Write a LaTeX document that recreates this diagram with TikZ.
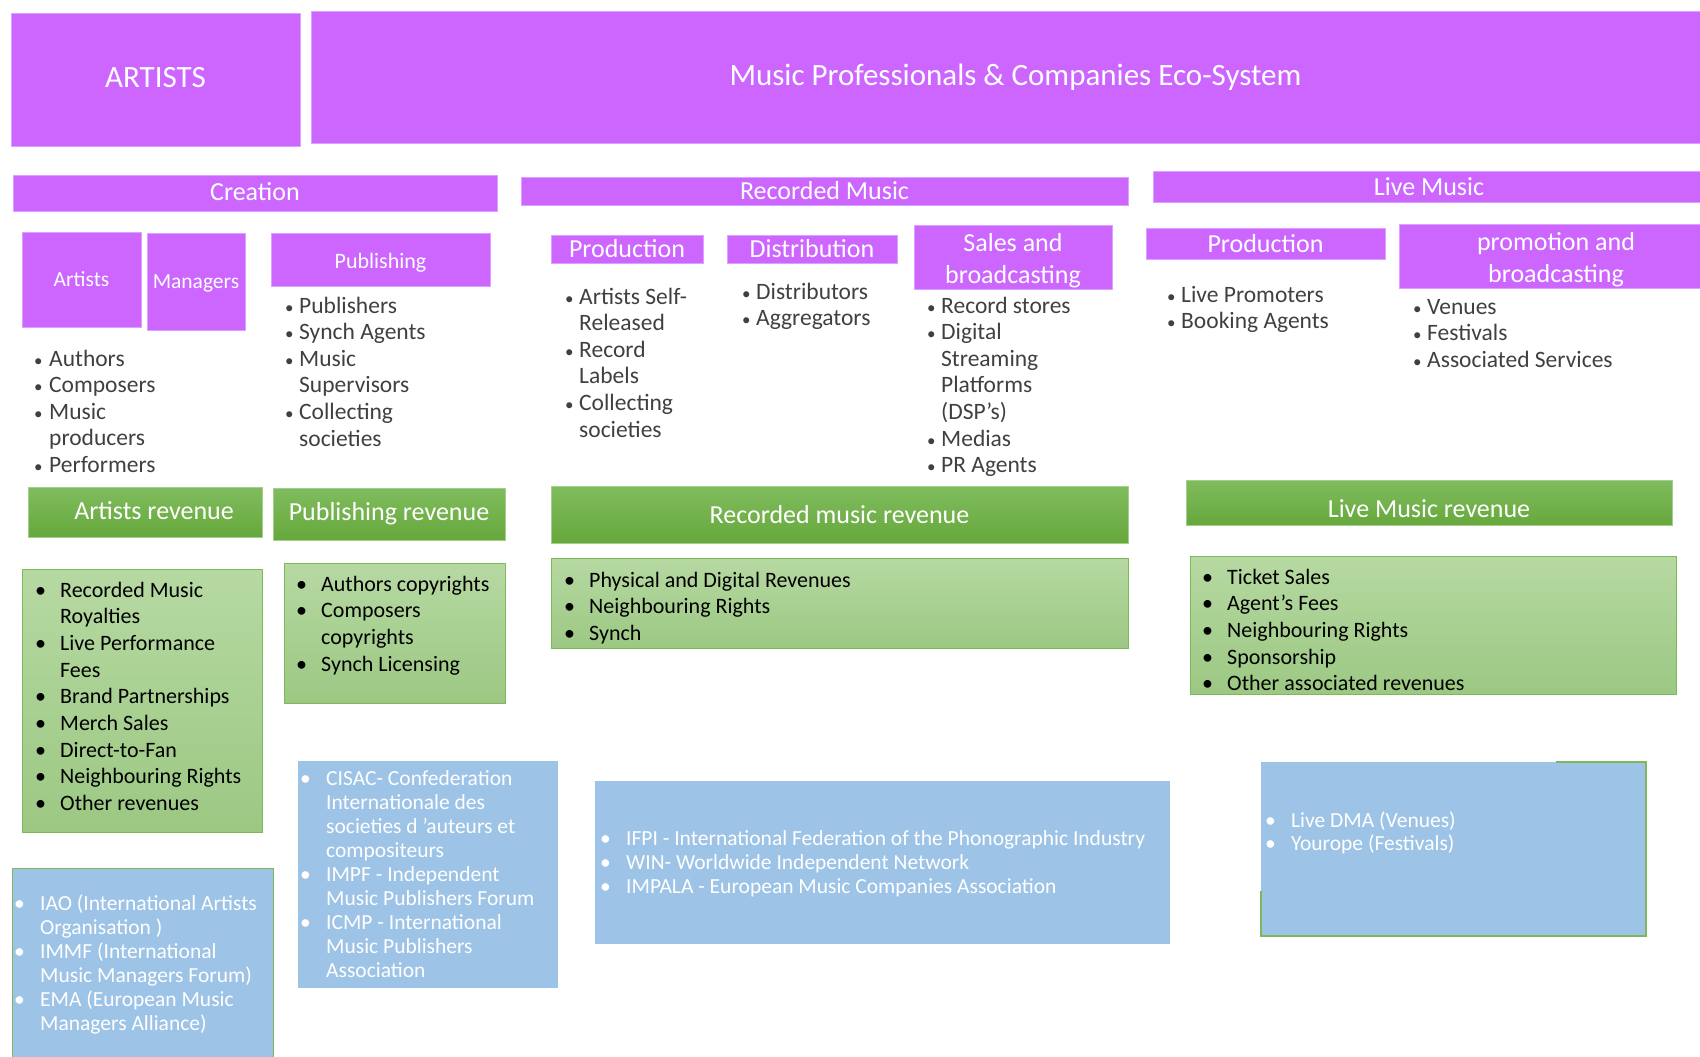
\documentclass[tikz,border=0pt]{standalone}
\usepackage{fontspec}
\setmainfont{Carlito}
\definecolor{ecoviolet}{HTML}{CC66FF}
\definecolor{ecoedge}{HTML}{DDA0FF}
\definecolor{revtop}{HTML}{80BC5E}
\definecolor{revbottom}{HTML}{66A83C}
\definecolor{inctop}{HTML}{B6D9A2}
\definecolor{incbottom}{HTML}{9CC883}
\definecolor{incedge}{HTML}{7DB95A}
\definecolor{assocblue}{HTML}{9DC3E6}
\definecolor{listgray}{HTML}{404040}
\newcommand{\sbul}{{\fontsize{17}{17}\selectfont\textbullet}}
\newcommand{\nudge}[2]{\raisebox{#1}[\height][\depth]{#2}}
\tikzset{
  sector/.style={fill=ecoviolet, draw=ecoedge, text=white, inner sep=0pt, align=center},
  revenue/.style={top color=revtop, bottom color=revbottom, draw=incedge!70!white, text=white, inner sep=0pt, font=\fontsize{26}{30}\selectfont},
  income/.style={top color=inctop, bottom color=incbottom, draw=incedge, inner sep=0pt},
  assoc/.style={fill=assocblue, inner sep=0pt},
  actors/.style={anchor=base west, inner sep=0pt, text=listgray, font=\fontsize{23.5}{26.6}\selectfont},
  incomes/.style={anchor=base west, inner sep=0pt, text=black, font=\fontsize{22}{26.7}\selectfont},
  members/.style={anchor=base west, inner sep=0pt, text=white, font=\fontsize{21.5}{24}\selectfont},
}
\begin{document}
\begin{tikzpicture}[x=1pt, y=-1pt]
    \useasboundingbox (0, 0) rectangle (1700, 1057);
    \clip (0, 0) rectangle (1700, 1057);
    % top row
    \node [sector, minimum width=289, minimum height=133, font=\fontsize{31}{36}\selectfont] (artists) at (155.5, 79.5) {\nudge{2pt}{ARTISTS}};
    \node [sector, minimum width=1409, minimum height=132, font=\fontsize{31}{36}\selectfont] (ecosystem) at (1015.5, 77) {Music Professionals \& Companies Eco-System};
    % sectors
    \node [sector, minimum width=484, minimum height=36, font=\fontsize{26}{32}\selectfont] (creation) at (255, 193) {\nudge{1.5pt}{Creation}};
    \node [sector, minimum width=607, minimum height=28, font=\fontsize{26}{32}\selectfont] (recorded) at (824.5, 191) {Recorded Music};
    \node [sector, minimum width=552, minimum height=31, font=\fontsize{26}{32}\selectfont] (live) at (1429, 186.5) {Live Music};
    \node [sector, minimum width=119, minimum height=95, font=\fontsize{21.5}{26}\selectfont] (artistsub) at (81.5, 279.5) {Artists};
    \node [sector, minimum width=98, minimum height=97, font=\fontsize{21.5}{26}\selectfont] (managers) at (196, 281.5) {\nudge{-2pt}{Managers}};
    \node [sector, minimum width=219, minimum height=53, font=\fontsize{22}{26}\selectfont] (publishing) at (380.5, 259.5) {\nudge{-3pt}{Publishing}};
    \node [sector, minimum width=152, minimum height=28, font=\fontsize{26}{32}\selectfont] (recprod) at (627, 249) {Production};
    \node [sector, minimum width=170, minimum height=28, font=\fontsize{26}{32}\selectfont] (distribution) at (812, 249) {Distribution};
    \node [sector, minimum width=198, minimum height=60, font=\fontsize{26}{32}\selectfont] (sales) at (1013, 257) {\nudge{-4pt}{\begin{tabular}{@{}c@{}}Sales and\\ broadcasting\end{tabular}}};
    \node [sector, minimum width=239, minimum height=31, font=\fontsize{26}{32}\selectfont] (liveprod) at (1265.5, 243.5) {Production};
    \node [sector, minimum width=314, minimum height=61, font=\fontsize{26}{32}\selectfont] (promotion) at (1556, 256.5) {\nudge{-4pt}{\begin{tabular}{@{}c@{}}promotion and\\ broadcasting\end{tabular}}};
    % actors
    \node [actors] (creators) at (34, 366) {\begin{tabular}[t]{@{}p{15pt}@{}l@{}}
        \sbul & Authors\\ \sbul & Composers\\ \sbul & Music\\ & producers\\ \sbul & Performers\end{tabular}};
    \node [actors] (publishers) at (285, 313) {\begin{tabular}[t]{@{}p{14pt}@{}l@{}}
        \sbul & Publishers\\ \sbul & Synch Agents\\ \sbul & Music\\ & Supervisors\\ \sbul & Collecting\\ & societies\end{tabular}};
    \node [actors] (producers) at (565, 304) {\begin{tabular}[t]{@{}p{14pt}@{}l@{}}
        \sbul & Artists Self-\\ & Released\\ \sbul & Record\\ & Labels\\ \sbul & Collecting\\ & societies\end{tabular}};
    \node [actors] (distributors) at (742, 299) {\begin{tabular}[t]{@{}p{14pt}@{}l@{}}
        \sbul & Distributors\\ \sbul & Aggregators\end{tabular}};
    \node [actors] (sellers) at (927, 313) {\begin{tabular}[t]{@{}p{14pt}@{}l@{}}
        \sbul & Record stores\\ \sbul & Digital\\ & Streaming\\ & Platforms\\ & (DSP’s)\\ \sbul & Medias\\ \sbul & PR Agents\end{tabular}};
    \node [actors] (promoters) at (1167, 302) {\begin{tabular}[t]{@{}p{14pt}@{}l@{}}
        \sbul & Live Promoters\\ \sbul & Booking Agents\end{tabular}};
    \node [actors] (venues) at (1413, 314) {\begin{tabular}[t]{@{}p{14pt}@{}l@{}}
        \sbul & Venues\\ \sbul & Festivals\\ \sbul & Associated Services\end{tabular}};
    % revenues
    \node [revenue, minimum width=234, minimum height=50] (artistrev) at (145, 512) {\hspace*{18pt}\nudge{1pt}{Artists revenue}};
    \node [revenue, minimum width=232, minimum height=52] (pubrev) at (389, 514) {Publishing revenue};
    \node [revenue, minimum width=577, minimum height=57] (recrev) at (839.5, 514.5) {Recorded music revenue};
    \node [revenue, minimum width=486, minimum height=45] (liverev) at (1429, 502.5) {\nudge{-6pt}{Live Music revenue}};
    \node [income, minimum width=240, minimum height=263] (artistinc) at (142, 700.5) {};
    \node [income, minimum width=221, minimum height=140] (pubinc) at (394.5, 633) {};
    \node [income, minimum width=577, minimum height=90] (recinc) at (839.5, 603) {};
    \node [income, minimum width=486, minimum height=138] (liveinc) at (1433, 625) {};
    \node [incomes] (artistitems) at (35, 597) {\begin{tabular}[t]{@{}p{25pt}@{}l@{}}
        \textbullet & Recorded Music\\ & Royalties\\ \textbullet & Live Performance\\ & Fees\\ \textbullet & Brand Partnerships\\
        \textbullet & Merch Sales\\ \textbullet & Direct-to-Fan\\ \textbullet & Neighbouring Rights\\ \textbullet & Other revenues\end{tabular}};
    \node [incomes] (pubitems) at (296, 591) {\begin{tabular}[t]{@{}p{25pt}@{}l@{}}
        \textbullet & Authors copyrights\\ \textbullet & Composers\\ & copyrights\\ \textbullet & Synch Licensing\end{tabular}};
    \node [incomes] (recitems) at (564, 587) {\begin{tabular}[t]{@{}p{25pt}@{}l@{}}
        \textbullet & Physical and Digital Revenues\\ \textbullet & Neighbouring Rights\\ \textbullet & Synch\end{tabular}};
    \node [incomes] (liveitems) at (1202, 584) {\begin{tabular}[t]{@{}p{25pt}@{}l@{}}
        \textbullet & Ticket Sales\\ \textbullet & Agent’s Fees\\ \textbullet & Neighbouring Rights\\ \textbullet & Sponsorship\\ \textbullet & Other associated revenues\end{tabular}};
    % associations
    \node [assoc, draw=incedge, minimum width=261, minimum height=192] (artistassoc) at (142.5, 964) {};
    \node [assoc, minimum width=260, minimum height=227] (pubassoc) at (428, 874.5) {};
    \node [assoc, minimum width=575, minimum height=163] (recassoc) at (882.5, 862.5) {};
    \node [assoc, minimum width=385, minimum height=174] (liveassoc) at (1453.5, 849) {};
    \draw [incedge, line width=1.5pt] (liveassoc.north east) ++(-90, 0) -- (liveassoc.north east) -- (liveassoc.south east) -- (liveassoc.south west) -- ++(0, -45);
    \node [members] (artistmembers) at (14, 910) {\begin{tabular}[t]{@{}p{26pt}@{}l@{}}
        \textbullet & IAO (International Artists\\ & Organisation )\\ \textbullet & IMMF (International\\ & Music Managers Forum)\\
        \textbullet & EMA (European Music\\ & Managers Alliance)\end{tabular}};
    \node [members] (pubmembers) at (300, 785) {\begin{tabular}[t]{@{}p{26pt}@{}l@{}}
        \textbullet & CISAC- Confederation\\ & Internationale des\\ & societies d ’auteurs et\\ & compositeurs\\
        \textbullet & IMPF - Independent\\ & Music Publishers Forum\\ \textbullet & ICMP - International\\ & Music Publishers\\ & Association\end{tabular}};
    \node [members] (recmembers) at (600, 845) {\begin{tabular}[t]{@{}p{26pt}@{}l@{}}
        \textbullet & IFPI - International Federation of the Phonographic Industry\\
        \textbullet & WIN- Worldwide Independent Network\\ \textbullet & IMPALA - European Music Companies Association\end{tabular}};
    \node [members, font=\fontsize{21.5}{23}\selectfont] (livemembers) at (1265, 827) {\begin{tabular}[t]{@{}p{26pt}@{}l@{}}
        \textbullet & Live DMA (Venues)\\ \textbullet & Yourope (Festivals)\end{tabular}};
\end{tikzpicture}
\end{document}
